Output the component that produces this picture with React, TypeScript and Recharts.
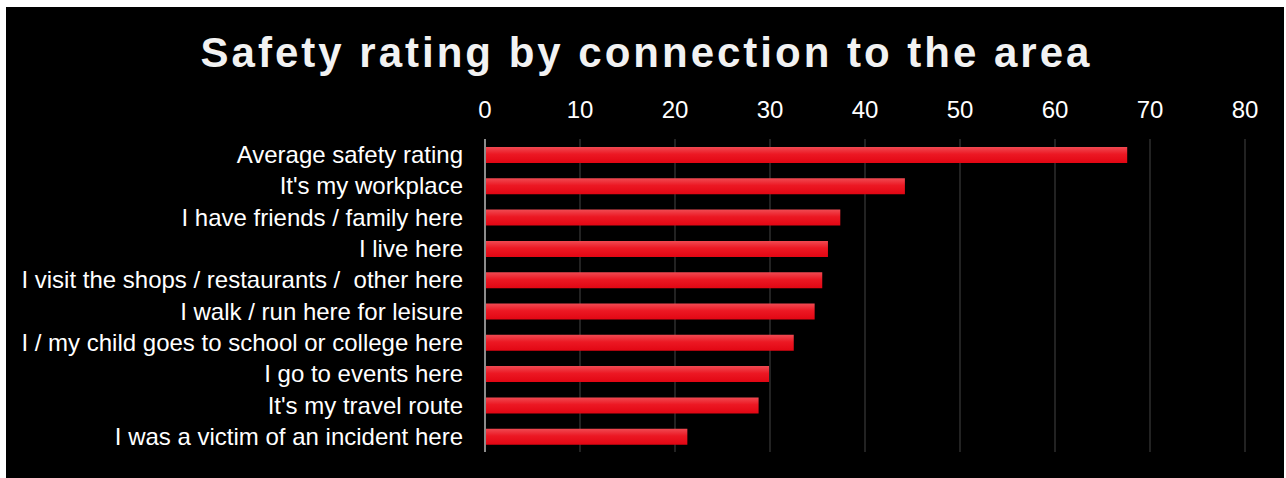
import React from 'react';
import { BarChart, Bar, XAxis, YAxis, CartesianGrid } from 'recharts';

const categories = [
  'Average safety rating',
  "It's my workplace",
  'I have friends / family here',
  'I live here',
  'I visit the shops / restaurants / \u00a0other here',
  'I walk / run here for leisure',
  'I / my child goes to school or college here',
  'I go to events here',
  "It's my travel route",
  'I was a victim of an incident here',
];

const ratings = [67.6, 44.2, 37.4, 36.1, 35.5, 34.7, 32.5, 29.9, 28.8, 21.3];

const xTicks = [0, 10, 20, 30, 40, 50, 60, 70, 80];

const data = categories.map((name, i) => ({ name, value: ratings[i] }));

const W = 1278;
const H = 471;
const FONT = '"Liberation Sans", Arial, sans-serif';

export default function App() {
  return (
    <div style={{ position: 'absolute', left: 6, top: 7, width: W, height: H, background: '#000' }}>
      <BarChart
        width={W}
        height={H}
        data={data}
        layout="vertical"
        margin={{ top: 102, right: 39, bottom: 26, left: 0 }}
        barCategoryGap={0}
      >
        <defs>
          <linearGradient id="barFill" x1="0" y1="0" x2="0" y2="1">
            <stop offset="0%" stopColor="#f04a52" />
            <stop offset="45%" stopColor="#ec1823" />
            <stop offset="100%" stopColor="#e20613" />
          </linearGradient>
        </defs>
        <CartesianGrid horizontal={false} stroke="#222" strokeWidth={2} />
        <XAxis
          type="number"
          orientation="top"
          domain={[0, 80]}
          ticks={xTicks}
          height={30}
          axisLine={false}
          tickLine={false}
          tickMargin={15}
          tick={{ fill: '#fff', fontSize: 24, fontFamily: FONT }}
        />
        <YAxis
          type="category"
          dataKey="name"
          width={479}
          interval={0}
          axisLine={{ stroke: '#8c8c8c', strokeWidth: 2 }}
          tickLine={false}
          tickMargin={16}
          tick={{ fill: '#fff', fontSize: 24, fontFamily: FONT }}
        />
        <Bar dataKey="value" fill="url(#barFill)" barSize={16} isAnimationActive={false} />
      </BarChart>
      <svg
        width={W}
        height={100}
        style={{ position: 'absolute', left: 0, top: 0, pointerEvents: 'none' }}
      >
        <text
          x={640.5}
          y={60}
          textAnchor="middle"
          fill="#f2f2f2"
          fontSize={42}
          fontWeight="bold"
          letterSpacing={3}
          fontFamily={FONT}
        >
          Safety rating by connection to the area
        </text>
      </svg>
    </div>
  );
}
